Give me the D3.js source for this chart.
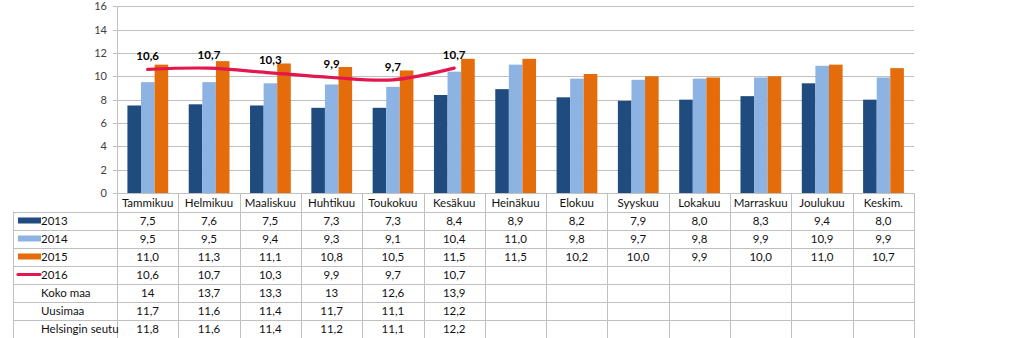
<!DOCTYPE html>
<html>
<head>
<meta charset="utf-8">
<script src="https://cdn.jsdelivr.net/npm/d3@7"></script>
<style>
  html, body { margin: 0; padding: 0; background: #fff; }
  svg { display: block; font-family: Lato, "Open Sans", "Liberation Sans", sans-serif; }
</style>
</head>
<body>
<svg id="chart" width="1024" height="338"></svg>
<script>
// Monthly values per year
const months = ["Tammikuu", "Helmikuu", "Maaliskuu", "Huhtikuu", "Toukokuu", "Kesäkuu",
  "Heinäkuu", "Elokuu", "Syyskuu", "Lokakuu", "Marraskuu", "Joulukuu", "Keskim."];
const barSeries = ["2013", "2014", "2015"];
const values2013 = [7.5, 7.6, 7.5, 7.3, 7.3, 8.4, 8.9, 8.2, 7.9, 8.0, 8.3, 9.4, 8.0];
const values2014 = [9.5, 9.5, 9.4, 9.3, 9.1, 10.4, 11.0, 9.8, 9.7, 9.8, 9.9, 10.9, 9.9];
const values2015 = [11.0, 11.3, 11.1, 10.8, 10.5, 11.5, 11.5, 10.2, 10.0, 9.9, 10.0, 11.0, 10.7];
const values2016 = [10.6, 10.7, 10.3, 9.9, 9.7, 10.7];
// Extra table-only rows
const kokoMaa = ["14", "13,7", "13,3", "13", "12,6", "13,9"];
const uusimaa = ["11,7", "11,6", "11,4", "11,7", "11,1", "12,2"];
const helsinginSeutu = ["11,8", "11,6", "11,4", "11,2", "11,1", "12,2"];
const yTicks = [0, 2, 4, 6, 8, 10, 12, 14, 16];

const colors = { "2013": "#1f4b7f", "2014": "#8db3e2", "2015": "#e46c0a", "2016": "#e3174e" };
const gridColor = "#c0c0c0";
const fmt = v => v.toFixed(1).replace(".", ",");

const svg = d3.select("#chart");
const plotLeft = 117, plotRight = 914, plotTop = 6.3, plotBottom = 193;
const tableLeft = 13, rowH = 18, tableTop = 211.5;

const x0 = d3.scaleBand().domain(months).range([plotLeft, plotRight]);
const bw = x0.bandwidth();
const x1 = d3.scaleBand().domain(barSeries).range([bw * 0.17, bw * 0.835]);
const y = d3.scaleLinear().domain([0, 16]).range([plotBottom, plotTop]);

// Gridlines
svg.append("g").selectAll("line").data(yTicks).join("line")
  .attr("x1", plotLeft - 4).attr("x2", plotRight)
  .attr("y1", d => Math.round(y(d)) + 0.5).attr("y2", d => Math.round(y(d)) + 0.5)
  .attr("stroke", gridColor).attr("stroke-width", 1);

// Y axis labels
const yAxis = d3.axisLeft(y).tickValues(yTicks).tickSize(0).tickPadding(10);
const gy = svg.append("g").attr("transform", `translate(${plotLeft},0)`).call(yAxis);
gy.select(".domain").remove();
gy.selectAll("text").attr("font-size", 11).attr("fill", "#404040")
  .attr("font-family", "Lato, sans-serif");

// Bars
const seriesData = { "2013": values2013, "2014": values2014, "2015": values2015 };
const groups = svg.append("g").selectAll("g").data(months).join("g")
  .attr("transform", d => `translate(${x0(d)},0)`);
groups.selectAll("rect").data((m, i) => barSeries.map(s => ({ s, v: seriesData[s][i] })))
  .join("rect")
  .attr("x", d => x1(d.s)).attr("width", x1.bandwidth())
  .attr("y", d => y(d.v)).attr("height", d => y(0) - y(d.v))
  .attr("fill", d => colors[d.s]);

// Axis vertical line and category/table grid
svg.append("line").attr("x1", plotLeft + 0.5).attr("x2", plotLeft + 0.5)
  .attr("y1", plotTop).attr("y2", 338).attr("stroke", gridColor);
const bounds = months.map(m => x0(m)).slice(1).concat([plotRight]);
svg.append("g").selectAll("line").data(bounds).join("line")
  .attr("x1", d => Math.round(d) + 0.5).attr("x2", d => Math.round(d) + 0.5)
  .attr("y1", plotBottom).attr("y2", 338).attr("stroke", gridColor);
svg.append("line").attr("x1", tableLeft + 0.5).attr("x2", tableLeft + 0.5)
  .attr("y1", tableTop).attr("y2", 338).attr("stroke", gridColor);
svg.append("g").selectAll("line").data(d3.range(8)).join("line")
  .attr("x1", tableLeft).attr("x2", plotRight)
  .attr("y1", i => Math.round(tableTop + i * rowH) + 0.5)
  .attr("y2", i => Math.round(tableTop + i * rowH) + 0.5)
  .attr("stroke", gridColor);

// Category labels
svg.append("g").selectAll("text").data(months).join("text")
  .attr("x", d => x0(d) + bw / 2).attr("y", plotBottom + 13.5)
  .attr("text-anchor", "middle").attr("font-size", 11.5).attr("fill", "#111")
  .text(d => d);

// 2016 line
const line = d3.line()
  .x((d, i) => x0(months[i]) + bw / 2)
  .y(d => y(d))
  .curve(d3.curveCatmullRom.alpha(0.5));
svg.append("path").datum(values2016).attr("d", line)
  .attr("fill", "none").attr("stroke", colors["2016"]).attr("stroke-width", 3.2)
  .attr("stroke-linecap", "round");
svg.append("g").selectAll("text").data(values2016).join("text")
  .attr("x", (d, i) => x0(months[i]) + bw / 2).attr("y", d => y(d) - 9)
  .attr("text-anchor", "middle").attr("font-size", 11.5).attr("font-weight", "bold")
  .attr("fill", "#000").text(d => fmt(d));

// Table rows
const rows = [
  { label: "2013", key: "2013", type: "bar", vals: values2013.map(fmt) },
  { label: "2014", key: "2014", type: "bar", vals: values2014.map(fmt) },
  { label: "2015", key: "2015", type: "bar", vals: values2015.map(fmt) },
  { label: "2016", key: "2016", type: "line", vals: values2016.map(fmt) },
  { label: "Koko maa", vals: kokoMaa },
  { label: "Uusimaa", vals: uusimaa },
  { label: "Helsingin seutu", vals: helsinginSeutu }
];
const rowG = svg.append("g").selectAll("g").data(rows).join("g")
  .attr("transform", (d, i) => `translate(0,${tableTop + i * rowH})`);
rowG.filter(d => d.type === "bar").append("rect")
  .attr("x", 18).attr("y", rowH / 2 - 3).attr("width", 23).attr("height", 6)
  .attr("fill", d => colors[d.key]);
rowG.filter(d => d.type === "line").append("line")
  .attr("x1", 18).attr("x2", 40).attr("y1", rowH / 2).attr("y2", rowH / 2)
  .attr("stroke", d => colors[d.key]).attr("stroke-width", 3.2).attr("stroke-linecap", "round");
rowG.append("text").attr("x", 41).attr("y", rowH / 2 + 4)
  .attr("font-size", 11.5).attr("fill", "#111").text(d => d.label);
rowG.selectAll("text.v").data(d => d.vals).join("text").attr("class", "v")
  .attr("x", (d, i) => x0(months[i]) + bw / 2).attr("y", rowH / 2 + 4)
  .attr("text-anchor", "middle").attr("font-size", 11.5).attr("fill", "#111")
  .text(d => d);
</script>
</body>
</html>
